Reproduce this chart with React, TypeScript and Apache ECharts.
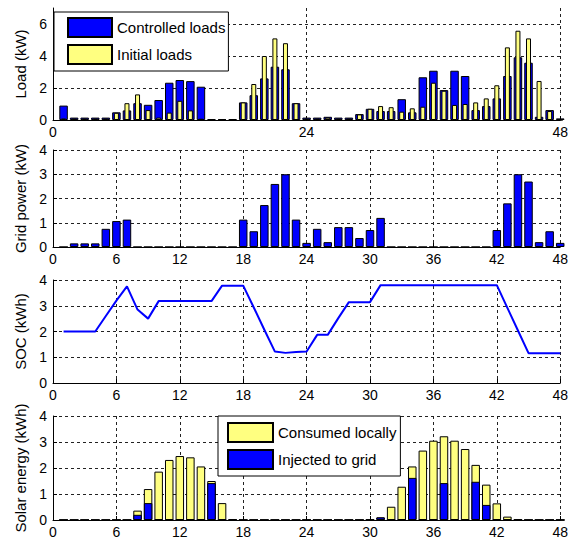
import React, { useEffect, useRef } from 'react';
import * as echarts from 'echarts';

const hours = [
  1, 2, 3, 4, 5, 6, 7, 8, 9, 10, 11, 12, 13, 14, 15, 16, 17, 18, 19, 20, 21, 22, 23, 24,
  25, 26, 27, 28, 29, 30, 31, 32, 33, 34, 35, 36, 37, 38, 39, 40, 41, 42, 43, 44, 45, 46, 47, 48,
];

// Load (kW)
const controlledLoads = [
  0.9, 0.15, 0.15, 0.15, 0.15, 0.48, 0.6, 1.05, 0.95, 1.25, 2.33, 2.5, 2.43, 2.08, 0.05, 0.05,
  0.05, 1.1, 1.55, 2.6, 3.33, 3.17, 1.05, 0.15, 0.15, 0.2, 0.15, 0.15, 0.37, 0.7, 0.56, 0.56,
  1.3, 0.48, 2.67, 3.08, 1.87, 3.08, 2.75, 0.62, 0.87, 1.35, 2.75, 3.92, 3.58, 0.2, 0.62, 0.1,
];
const initialLoads = [
  0.1, 0.1, 0.1, 0.1, 0.1, 0.45, 1.05, 1.6, 0.62, 0.15, 0.46, 1.2, 0.6, 0.08, 0, 0,
  0, 1.1, 2.25, 4.0, 5.1, 4.8, 1.05, 0.1, 0.1, 0.15, 0.1, 0.1, 0.35, 0.7, 0.87, 0.8,
  0.52, 0.73, 0.83, 2.33, 1.83, 0.94, 1.0, 1.1, 1.35, 2.17, 4.54, 5.58, 5.1, 2.44, 0.56, 0,
];

// Grid power (kW)
const gridPower = [
  0, 0.15, 0.15, 0.15, 0.75, 1.07, 1.13, 0, 0, 0, 0, 0, 0, 0, 0, 0,
  0, 1.13, 0.65, 1.73, 2.6, 3.0, 1.13, 0.17, 0.75, 0.2, 0.82, 0.82, 0.37, 0.7, 1.2, 0,
  0, 0, 0, 0, 0, 0, 0, 0, 0, 0.7, 1.8, 3.0, 2.7, 0.2, 0.65, 0.17,
];

// SOC (kWh)
const soc = [
  2.0, 2.0, 2.0, 2.0, 2.6, 3.2, 3.75, 2.85, 2.5, 3.18, 3.18, 3.18, 3.18, 3.18, 3.18, 3.78,
  3.78, 3.78, 2.93, 2.07, 1.22, 1.17, 1.2, 1.22, 1.87, 1.87, 2.52, 3.14, 3.14, 3.14, 3.8, 3.8,
  3.8, 3.8, 3.8, 3.8, 3.8, 3.8, 3.8, 3.8, 3.8, 3.8, 2.92, 2.04, 1.16, 1.16, 1.16, 1.16,
];

// Solar energy (kWh)
const consumedLocally = [
  0, 0, 0, 0, 0, 0, 0, 0.36, 1.19, 1.86, 2.31, 2.46, 2.41, 2.06, 1.5, 0.65,
  0.03, 0, 0, 0, 0, 0, 0, 0, 0, 0, 0, 0, 0, 0.02, 0.1, 0.51,
  1.28, 2.06, 2.67, 3.05, 3.22, 3.05, 2.73, 2.12, 1.36, 0.64, 0.13, 0.03, 0, 0, 0, 0,
];
const injectedToGrid = [
  0, 0, 0, 0, 0, 0, 0, 0.2, 0.65, 0, 0, 0, 0, 0, 1.42, 0,
  0, 0, 0, 0, 0, 0, 0, 0, 0, 0, 0, 0, 0, 0, 0.1, 0,
  0, 1.62, 0, 0, 1.42, 0, 0, 1.47, 0.58, 0, 0, 0, 0, 0, 0, 0,
];

const FONT = 'Liberation Sans, Arial, sans-serif';
const BLUE = '#0000ff';
const YELLOW = '#ffff80';

const pairs = (ys: number[]) => hours.map((h, i) => [h, ys[i]]);

const gridLine = { show: true, lineStyle: { color: '#222', type: [3, 3], width: 1 } };

const xAxisFor = (gridIndex: number, interval: number, show = true) => ({
  type: 'value',
  gridIndex,
  min: 0,
  max: 48,
  interval,
  show,
  axisLine: { show: true, onZero: false, lineStyle: { color: '#000' } },
  axisTick: { show: true, inside: true, length: 4, lineStyle: { color: '#000' } },
  axisLabel: { color: '#000', fontFamily: FONT, fontSize: 14, margin: 5 },
  splitLine: gridLine,
});

const yAxisFor = (gridIndex: number, name: string, max: number, interval: number, extra = {}) => ({
  type: 'value',
  gridIndex,
  min: 0,
  max,
  interval,
  name,
  nameLocation: 'middle',
  nameRotate: 90,
  nameGap: 25,
  nameTextStyle: { color: '#000', fontFamily: FONT, fontSize: 15 },
  axisLine: { show: true, lineStyle: { color: '#000' } },
  axisTick: { show: true, inside: true, length: 4, lineStyle: { color: '#000' } },
  axisLabel: { color: '#000', fontFamily: FONT, fontSize: 14, margin: 6 },
  splitLine: gridLine,
  ...extra,
});

const barStyle = (color: string) => ({ color, borderColor: '#000', borderWidth: 1 });

const App: React.FC = () => {
  const chartRef = useRef<HTMLDivElement>(null);

  useEffect(() => {
    if (!chartRef.current) return;
    const chart = echarts.init(chartRef.current, null, { renderer: 'svg' });

    const option: any = {
      animation: false,
      backgroundColor: '#fff',
      textStyle: { fontFamily: FONT },
      grid: [
        { left: 53, top: 8, width: 510, height: 112 },
        { left: 53, top: 150, width: 510, height: 97 },
        { left: 53, top: 280, width: 510, height: 103 },
        { left: 53, top: 416, width: 510, height: 104 },
      ],
      xAxis: [
        xAxisFor(0, 24),
        xAxisFor(0, 24, false),
        xAxisFor(1, 6),
        xAxisFor(2, 6),
        xAxisFor(3, 6),
        xAxisFor(3, 6, false),
      ],
      yAxis: [
        yAxisFor(0, 'Load (kW)', 7, 2, {
          axisLabel: { color: '#000', fontFamily: FONT, fontSize: 14, margin: 6, showMaxLabel: false },
          splitLine: { ...gridLine, showMaxLine: false },
        }),
        yAxisFor(1, 'Grid power (kW)', 4, 1),
        yAxisFor(2, 'SOC (kWh)', 4, 1),
        yAxisFor(3, 'Solar energy (kWh)', 4, 1),
      ],
      legend: [
        {
          data: ['Controlled loads', 'Initial loads'],
          orient: 'vertical',
          left: 54,
          top: 12,
          padding: [5, 3, 6, 13],
          itemWidth: 44,
          itemHeight: 19,
          itemGap: 6,
          icon: 'rect',
          selectedMode: false,
          backgroundColor: '#fff',
          borderColor: '#000',
          borderWidth: 1,
          textStyle: { color: '#000', fontFamily: FONT, fontSize: 15 },
        },
        {
          data: ['Consumed locally', 'Injected to grid'],
          orient: 'vertical',
          left: 218,
          top: 416,
          padding: [6, 4, 6, 9],
          itemWidth: 45,
          itemHeight: 19,
          itemGap: 6,
          icon: 'rect',
          selectedMode: false,
          backgroundColor: '#fff',
          borderColor: '#000',
          borderWidth: 1,
          textStyle: { color: '#000', fontFamily: FONT, fontSize: 15 },
        },
      ],
      series: [
        {
          name: 'Controlled loads',
          type: 'bar',
          xAxisIndex: 0,
          yAxisIndex: 0,
          barWidth: 8.5,
          itemStyle: barStyle(BLUE),
          data: pairs(controlledLoads),
        },
        {
          name: 'Initial loads',
          type: 'bar',
          xAxisIndex: 1,
          yAxisIndex: 0,
          barWidth: 5,
          itemStyle: barStyle(YELLOW),
          data: pairs(initialLoads),
        },
        {
          name: 'Grid power',
          type: 'bar',
          xAxisIndex: 2,
          yAxisIndex: 1,
          barWidth: 8.5,
          itemStyle: barStyle(BLUE),
          data: pairs(gridPower),
        },
        {
          name: 'SOC',
          type: 'line',
          xAxisIndex: 3,
          yAxisIndex: 2,
          showSymbol: false,
          lineStyle: { color: BLUE, width: 2 },
          itemStyle: { color: BLUE },
          data: pairs(soc),
        },
        {
          name: 'Consumed locally',
          type: 'bar',
          xAxisIndex: 4,
          yAxisIndex: 3,
          barWidth: 8.5,
          itemStyle: barStyle(YELLOW),
          data: pairs(consumedLocally),
        },
        {
          name: 'Injected to grid',
          type: 'bar',
          xAxisIndex: 5,
          yAxisIndex: 3,
          barWidth: 8.5,
          itemStyle: barStyle(BLUE),
          data: pairs(injectedToGrid),
        },
      ],
    };

    chart.setOption(option);

    return () => {
      chart.dispose();
    };
  }, []);

  return (
    <div
      ref={chartRef}
      style={{ position: 'fixed', left: 0, top: 0, width: 571, height: 545, background: '#fff' }}
    />
  );
};

export default App;
